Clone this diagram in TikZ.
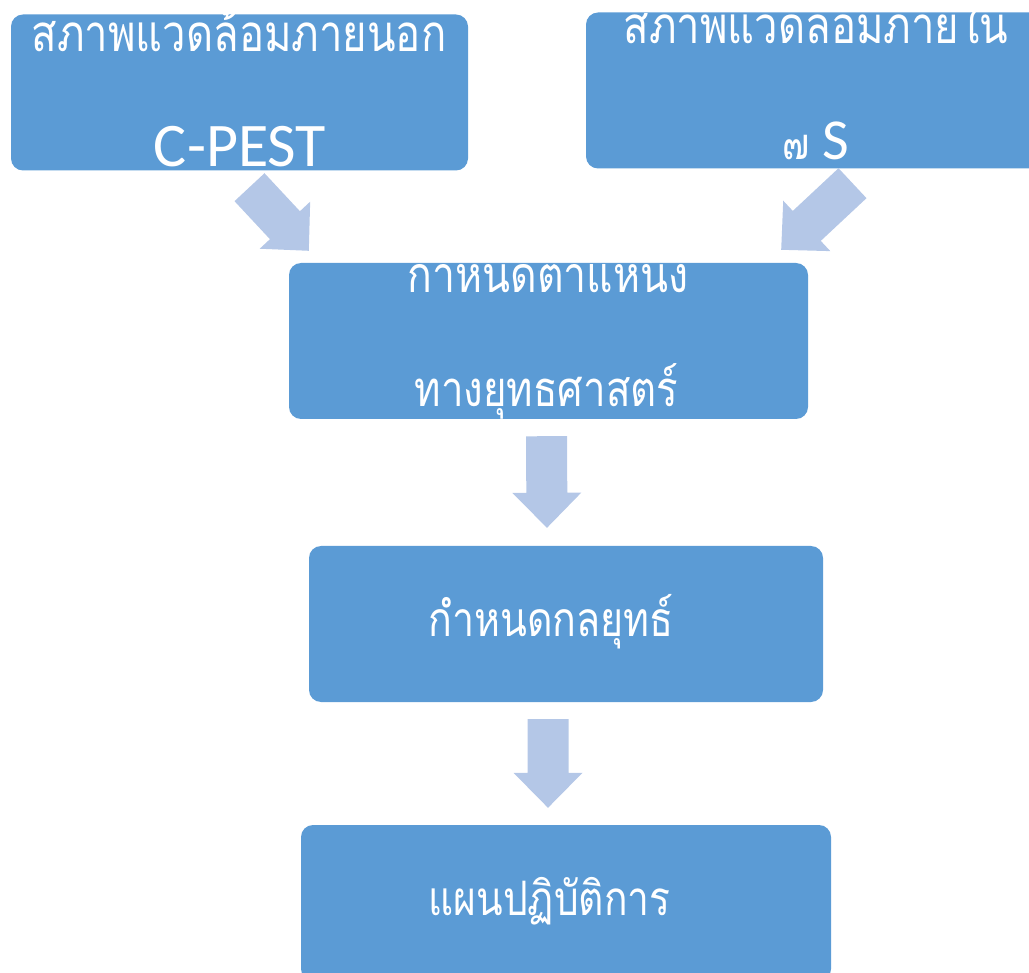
\documentclass[tikz,border=0pt]{standalone}
\usepackage{fontspec}
\setmainfont{Carlito}
\newfontfamily\thaifont[Script=Thai, FakeStretch=0.82]{Loma}
\usetikzlibrary{calc}

\definecolor{boxblue}{HTML}{5B9BD5}
\definecolor{arrowblue}{HTML}{B4C7E7}

% block arrow from #1 (shaft start) to #2 (tip)
\newcommand{\fatarrow}[2]{%
  \coordinate (fa-base) at ($(#2)!35pt!(#1)$);
  \fill[arrowblue] ($(#1)!20.5pt!90:(#2)$) -- ($(fa-base)!20.5pt!90:(#2)$)
    -- ($(fa-base)!34.5pt!90:(#2)$) -- (#2) -- ($(fa-base)!34.5pt!-90:(#2)$)
    -- ($(fa-base)!20.5pt!-90:(#2)$) -- ($(#1)!20.5pt!-90:(#2)$) -- cycle;}

\begin{document}
\begin{tikzpicture}[x=1pt, y=-1pt,
        stage/.style={fill=boxblue, rounded corners=12pt, minimum height=156pt, inner sep=0pt},
        thai/.style={text=white, anchor=base, font=\thaifont\fontsize{#1}{#1}\selectfont},
        thai/.default=49,
        latin/.style={text=white, anchor=base, font=\fontsize{62}{64}\selectfont}
    ]

    \useasboundingbox (0,0) rectangle (1029,973);

    % Boxes
    \node[stage, minimum width=457pt] (ext) at (239.5,92.5) {};
    \node[stage, minimum width=460pt] (int) at (816,90.5) {};
    \node[stage, minimum width=519pt] (pos) at (548.5,341) {};
    \node[stage, minimum width=514pt] (strat) at (566,624) {};
    \node[stage, minimum width=530pt] (plan) at (566,903) {};

    % External environment
    \node[thai=51] (ext-th) at (239,52) {สภาพแวดล้อมภายนอก};
    \node[latin] (ext-en) at (240,167) {C-PEST};

    % Internal environment
    \node[thai=51] (int-th) at (816,44) {สภาพแวดล้อมภายใน};
    \node[latin, font=\fontsize{58}{60}\selectfont] (int-en) at (816,160) {{\thaifont\fontsize{44}{44}\selectfont ๗} S};

    % Strategic position
    \node[thai=50] (pos-1) at (548,293) {กาหนดตาแหน่ง};
    \node[thai=49] (pos-2) at (546.5,407) {ทางยุทธศาสตร์};

    % Strategy
    \node[thai=48] (strat-th) at (551,636) {กำหนดกลยุทธ์};

    % Action plan
    \node[thai=47.5] (plan-th) at (549.5,915) {แผนปฏิบัติการ};

    % Arrows
    \coordinate (a1s) at ($(ext.south)+(10,16.5)$);
    \coordinate (a1t) at ($(pos.north west)+(20,-12)$);
    \coordinate (a2s) at ($(int.south)+(36.5,14.5)$);
    \coordinate (a2t) at ($(pos.north east)+(-27,-13)$);
    \coordinate (a3s) at ($(pos.south)+(-2,17)$);
    \coordinate (a3t) at ($(strat.north)+(-19,-18)$);
    \coordinate (a4s) at ($(strat.south)+(-18,17)$);
    \coordinate (a4t) at ($(plan.north)+(-18,-17)$);
    \fatarrow{a1s}{a1t}
    \fatarrow{a2s}{a2t}
    \fatarrow{a3s}{a3t}
    \fatarrow{a4s}{a4t}

\end{tikzpicture}
\end{document}
